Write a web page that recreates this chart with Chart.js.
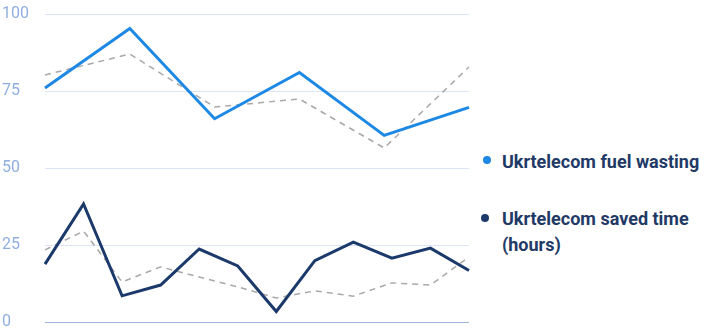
<!DOCTYPE html>
<html>
<head>
<meta charset="utf-8">
<script src="https://cdn.jsdelivr.net/npm/chart.js@4.4.1/dist/chart.umd.min.js"></script>
<style>
  html, body { margin: 0; padding: 0; background: #ffffff; }
  #wrap { position: relative; width: 721px; height: 330px; }
  #chartBox { position: absolute; left: 0; top: 0; width: 476px; height: 330px; }
  #legend { position: absolute; left: 478px; top: 0; width: 243px; height: 330px; font-family: Roboto, sans-serif; }
  .dot { position: absolute; width: 8px; height: 8px; border-radius: 50%; }
  .txt { position: absolute; left: 24px; white-space: nowrap; font-weight: 700; font-size: 18px; line-height: 26px; color: #1f3a66; }
</style>
</head>
<body>
<div id="wrap">
  <div id="chartBox"><canvas id="c"></canvas></div>
  <div id="legend"></div>
</div>
<script>
// Categories
const monthsFine = ['1','2','3','4','5','6','7','8','9','10','11','12'];
const monthsCoarse = ['1','2','3','4','5','6'];
// Series
const fuelLabel = 'Ukrtelecom fuel wasting';
const fuelValues = [76, 95.3, 66, 81, 60.6, 69.7];
const fuelCompare = [80.2, 87, 69.8, 72.4, 56.5, 82.8];
const timeLabel = ['Ukrtelecom saved time', '(hours)'];
const timeValues = [18.8, 38.3, 8.5, 12.0, 23.7, 18.2, 3.4, 19.9, 25.9, 20.7, 24.0, 16.7];
const timeCompare = [23.4, 29.5, 13.0, 17.9, 14.6, 11.4, 7.8, 10.1, 8.4, 12.7, 12.0, 21.1];
// Tick labels
const yTicks = [0, 25, 50, 75, 100];

const BLUE = '#1e88e5';
const NAVY = '#1b3a6b';
const GREY = '#a9a9a9';

const chart = new Chart(document.getElementById('c'), {
  type: 'line',
  data: {
    datasets: [
      { label: fuelLabel, data: fuelValues, xAxisID: 'x2', borderColor: BLUE, backgroundColor: BLUE, borderWidth: 3, pointRadius: 0, tension: 0, order: 1 },
      { label: 'fuel-compare', data: fuelCompare, xAxisID: 'x2', borderColor: GREY, borderWidth: 1.5, borderDash: [6, 5], pointRadius: 0, tension: 0, order: 2 },
      { label: timeLabel.join(' '), data: timeValues, xAxisID: 'x', borderColor: NAVY, backgroundColor: NAVY, borderWidth: 3, pointRadius: 0, tension: 0, order: 1 },
      { label: 'time-compare', data: timeCompare, xAxisID: 'x', borderColor: GREY, borderWidth: 1.5, borderDash: [6, 5], pointRadius: 0, tension: 0, order: 2 }
    ]
  },
  options: {
    responsive: true,
    maintainAspectRatio: false,
    animation: false,
    layout: { padding: { top: 14, right: 7, bottom: 8, left: 2 } },
    plugins: { legend: { display: false }, tooltip: { enabled: false } },
    scales: {
      x: { type: 'category', labels: monthsFine, display: false, offset: false },
      x2: { type: 'category', labels: monthsCoarse, display: false, offset: false },
      y: {
        min: 0, max: 100,
        afterBuildTicks: (axis) => { axis.ticks = yTicks.map(v => ({ value: v })); },
        afterFit: (s) => { s.width = 43; s.paddingTop = 0; s.paddingBottom = 0; },
        border: { display: false },
        grid: {
          drawTicks: false,
          lineWidth: 1,
          color: (ctx) => ctx.tick && ctx.tick.value === 0 ? '#9fb6de' : '#dbe5f5'
        },
        ticks: {
          crossAlign: 'far',
          padding: 8,
          color: '#90afe0',
          font: { family: 'Roboto', size: 16 }
        }
      }
    }
  }
});

// Legend built from the series labels
const legendItems = [
  { text: [fuelLabel], color: BLUE, center: 162, dotX: 5, dotY: 160 },
  { text: timeLabel, color: NAVY, center: 219, dotX: 3, dotY: 218 }
];
const legendEl = document.getElementById('legend');
legendItems.forEach(it => {
  const dot = document.createElement('span');
  dot.className = 'dot';
  dot.style.background = it.color;
  dot.style.left = it.dotX + 'px';
  dot.style.top = (it.dotY - 4) + 'px';
  const t = document.createElement('span');
  t.className = 'txt';
  t.style.top = (it.center - 13) + 'px';
  t.innerHTML = it.text.join('<br>');
  legendEl.appendChild(dot);
  legendEl.appendChild(t);
});
</script>
</body>
</html>
